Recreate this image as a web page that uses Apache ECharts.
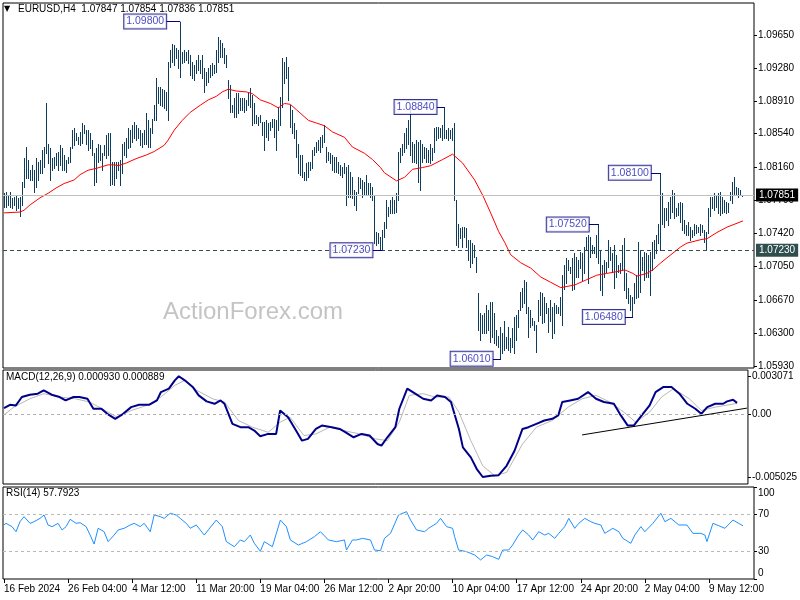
<!DOCTYPE html>
<html><head><meta charset="utf-8">
<script src="https://cdn.jsdelivr.net/npm/echarts@6/dist/echarts.min.js"></script>
<style>html,body{margin:0;padding:0;background:#fff}#c{width:800px;height:600px}</style>
</head><body><div id="c"></div>
<script>
const symbolName = 'EURUSD';
const timeframe = 'H4';
const lastBar = [1.07847, 1.07854, 1.07836, 1.07851];
const dateLabels = ['16 Feb 2024','26 Feb 04:00','4 Mar 12:00','11 Mar 20:00','19 Mar 04:00','26 Mar 12:00','2 Apr 20:00','10 Apr 04:00','17 Apr 12:00','24 Apr 20:00','2 May 04:00','9 May 12:00'];
const barsPerLabel = 32;
const slotCount = 375;
const high = [
1.0787,1.0788,1.0785,1.0788,1.0782,1.0783,1.0785,1.0782,1.0783,1.0800,
1.0827,1.0839,1.0825,1.0813,1.0819,1.0813,1.0827,1.0822,1.0825,1.0836,
1.0839,1.0889,1.0843,1.0838,1.0827,1.0828,1.0832,1.0833,1.0841,1.0838,
1.0830,1.0825,1.0828,1.0839,1.0858,1.0860,1.0855,1.0850,1.0856,1.0866,
1.0864,1.0858,1.0858,1.0855,1.0847,1.0832,1.0838,1.0843,1.0841,1.0832,
1.0841,1.0853,1.0855,1.0855,1.0822,1.0822,1.0822,1.0822,1.0825,1.0843,
1.0845,1.0849,1.0860,1.0858,1.0864,1.0867,1.0864,1.0860,1.0858,1.0855,
1.0858,1.0877,1.0869,1.0860,1.0871,1.0886,1.0917,1.0907,1.0906,1.0904,
1.0903,1.0901,1.0935,1.0948,1.0955,1.0954,1.0950,1.0948,1.0980,1.0946,
1.0948,1.0946,1.0948,1.0943,1.0935,1.0931,1.0937,1.0943,1.0937,1.0943,
1.0928,1.0923,1.0928,1.0931,1.0933,1.0931,1.0948,1.0963,1.0959,1.0956,
1.0950,1.0943,1.0914,1.0909,1.0886,1.0894,1.0900,1.0900,1.0894,1.0894,
1.0894,1.0892,1.0900,1.0905,1.0898,1.0889,1.0875,1.0873,1.0875,1.0867,
1.0867,1.0869,1.0866,1.0867,1.0871,1.0871,1.0869,1.0884,1.0895,1.0939,
1.0935,1.0940,1.0929,1.0886,1.0881,1.0866,1.0858,1.0843,1.0830,1.0830,
1.0811,1.0821,1.0822,1.0822,1.0836,1.0839,1.0845,1.0847,1.0850,1.0853,
1.0864,1.0839,1.0833,1.0832,1.0830,1.0828,1.0828,1.0822,1.0819,1.0817,
1.0821,1.0817,1.0819,1.0811,1.0805,1.0791,1.0788,1.0805,1.0804,1.0802,
1.0800,1.0808,1.0799,1.0799,1.0794,1.0785,1.0743,1.0742,1.0738,1.0746,
1.0755,1.0780,1.0772,1.0780,1.0783,1.0780,1.0787,1.0833,1.0838,1.0843,
1.0855,1.0860,1.0869,1.0884,1.0845,1.0843,1.0847,1.0845,1.0847,1.0843,
1.0839,1.0838,1.0836,1.0843,1.0838,1.0860,1.0861,1.0861,1.0860,1.0864,
1.0884,1.0858,1.0860,1.0858,1.0860,1.0866,1.0780,1.0753,1.0748,1.0749,
1.0749,1.0748,1.0735,1.0735,1.0731,1.0729,1.0715,1.0675,1.0652,1.0650,
1.0652,1.0661,1.0656,1.0665,1.0665,1.0652,1.0633,1.0627,1.0637,1.0630,
1.0644,1.0625,1.0637,1.0624,1.0636,1.0648,1.0650,1.0656,1.0676,1.0681,
1.0690,1.0687,1.0659,1.0656,1.0647,1.0644,1.0639,1.0667,1.0676,1.0675,
1.0670,1.0664,1.0658,1.0667,1.0659,1.0664,1.0661,1.0659,1.0670,1.0695,
1.0706,1.0714,1.0712,1.0704,1.0714,1.0720,1.0715,1.0712,1.0721,1.0720,
1.0727,1.0738,1.0740,1.0738,1.0729,1.0727,1.0740,1.0752,1.0723,1.0706,
1.0712,1.0710,1.0735,1.0727,1.0720,1.0729,1.0718,1.0706,1.0709,1.0729,
1.0737,1.0697,1.0681,1.0673,1.0670,1.0686,1.0695,1.0732,1.0723,1.0715,
1.0721,1.0720,1.0718,1.0721,1.0732,1.0735,1.0740,1.0753,1.0810,1.0787,
1.0770,1.0771,1.0777,1.0783,1.0791,1.0787,1.0771,1.0776,1.0777,1.0776,
1.0757,1.0751,1.0755,1.0749,1.0746,1.0753,1.0751,1.0749,1.0753,1.0751,
1.0746,1.0743,1.0770,1.0783,1.0783,1.0787,1.0785,1.0787,1.0788,1.0783,
1.0780,1.0777,1.0776,1.0788,1.0800,1.0805,1.0794,1.0793,1.0791,1.07854];
const low = [
1.0772,1.0772,1.0774,1.0772,1.0771,1.0774,1.0768,1.0771,1.0761,1.0774,
1.0794,1.0804,1.0804,1.0802,1.0802,1.0789,1.0794,1.0802,1.0810,1.0810,
1.0817,1.0832,1.0821,1.0802,1.0813,1.0815,1.0819,1.0813,1.0819,1.0813,
1.0813,1.0811,1.0821,1.0822,1.0838,1.0841,1.0847,1.0843,1.0841,1.0844,
1.0855,1.0843,1.0836,1.0838,1.0830,1.0796,1.0800,1.0822,1.0825,1.0813,
1.0830,1.0827,1.0830,1.0796,1.0798,1.0796,1.0804,1.0813,1.0796,1.0810,
1.0830,1.0828,1.0838,1.0839,1.0845,1.0849,1.0847,1.0849,1.0841,1.0839,
1.0843,1.0843,1.0839,1.0839,1.0855,1.0869,1.0869,1.0889,1.0886,1.0885,
1.0883,1.0881,1.0869,1.0929,1.0935,1.0931,1.0939,1.0928,1.0918,1.0934,
1.0935,1.0937,1.0934,1.0920,1.0917,1.0914,1.0922,1.0926,1.0922,1.0917,
1.0901,1.0909,1.0912,1.0918,1.0920,1.0922,1.0923,1.0935,1.0940,1.0940,
1.0934,1.0929,1.0894,1.0878,1.0878,1.0873,1.0873,1.0877,1.0881,1.0881,
1.0878,1.0881,1.0886,1.0884,1.0864,1.0866,1.0866,1.0864,1.0867,1.0853,
1.0836,1.0850,1.0847,1.0858,1.0861,1.0850,1.0836,1.0858,1.0864,1.0884,
1.0911,1.0917,1.0892,1.0861,1.0855,1.0849,1.0828,1.0810,1.0808,1.0805,
1.0802,1.0802,1.0805,1.0813,1.0815,1.0830,1.0833,1.0836,1.0833,1.0839,
1.0845,1.0822,1.0825,1.0821,1.0813,1.0811,1.0811,1.0810,1.0808,1.0805,
1.0810,1.0774,1.0783,1.0783,1.0782,1.0774,1.0768,1.0787,1.0793,1.0783,
1.0785,1.0785,1.0785,1.0783,1.0780,1.0731,1.0729,1.0731,1.0723,1.0723,
1.0738,1.0748,1.0761,1.0765,1.0765,1.0765,1.0766,1.0780,1.0822,1.0830,
1.0833,1.0838,1.0843,1.0830,1.0822,1.0822,1.0821,1.0800,1.0791,1.0822,
1.0827,1.0822,1.0822,1.0821,1.0825,1.0833,1.0847,1.0849,1.0850,1.0847,
1.0849,1.0849,1.0847,1.0849,1.0847,1.0780,1.0729,1.0727,1.0737,1.0727,
1.0738,1.0727,1.0712,1.0704,1.0709,1.0715,1.0699,1.0633,1.0622,1.0630,
1.0630,1.0630,1.0633,1.0620,1.0625,1.0619,1.0616,1.0614,1.0601,1.0608,
1.0611,1.0613,1.0611,1.0609,1.0614,1.0608,1.0622,1.0637,1.0656,1.0659,
1.0664,1.0653,1.0625,1.0637,1.0639,1.0633,1.0609,1.0644,1.0650,1.0641,
1.0642,1.0652,1.0631,1.0644,1.0624,1.0630,1.0652,1.0652,1.0650,1.0639,
1.0680,1.0686,1.0701,1.0697,1.0678,1.0680,1.0693,1.0693,1.0703,1.0690,
1.0697,1.0723,1.0686,1.0715,1.0720,1.0720,1.0715,1.0709,1.0678,1.0673,
1.0693,1.0699,1.0704,1.0712,1.0699,1.0681,1.0693,1.0699,1.0697,1.0701,
1.0678,1.0669,1.0664,1.0656,1.0648,1.0664,1.0669,1.0670,1.0676,1.0701,
1.0690,1.0693,1.0693,1.0673,1.0701,1.0714,1.0720,1.0731,1.0723,1.0753,
1.0749,1.0757,1.0751,1.0759,1.0766,1.0759,1.0761,1.0763,1.0755,1.0746,
1.0742,1.0740,1.0740,1.0735,1.0738,1.0740,1.0742,1.0743,1.0740,1.0743,
1.0732,1.0723,1.0742,1.0761,1.0771,1.0768,1.0772,1.0765,1.0763,1.0765,
1.0766,1.0765,1.0766,1.0780,1.0776,1.0785,1.0785,1.0783,1.0785,1.07836];
const maBars = [0,8,10,13,18,22,26,30,35,38,42,46,52,55,57,61,66,71,75,80,82,85,89,93,98,102,106,109,112,116,121,124,128,133,137,140,143,146,152,156,160,164,170,174,180,184,188,190,196,200,204,209,213,219,224,229,235,239,243,247,250,253,258,263,268,273,278,285,291,296,301,306,310,314,316,321,324,328,333,338,341,348,351,356,361,369];
const maValues = [1.0765,1.0766,1.0768,1.0774,1.0782,1.0787,1.0793,1.0798,1.0802,1.0808,1.0813,1.0815,1.0819,1.0819,1.0818,1.0821,1.0826,1.0830,1.0834,1.0841,1.0847,1.0858,1.0869,1.0878,1.0886,1.0892,1.0896,1.0901,1.0904,1.0902,1.0901,1.0899,1.0892,1.0888,1.0883,1.0888,1.0887,1.0881,1.0869,1.0866,1.0863,1.0856,1.0850,1.0839,1.0832,1.0825,1.0816,1.0810,1.0801,1.0805,1.0814,1.0816,1.0818,1.0825,1.0831,1.0821,1.0802,1.0785,1.0765,1.0744,1.0732,1.0718,1.0709,1.0703,1.0693,1.0687,1.0681,1.0684,1.0690,1.0695,1.0697,1.0699,1.0701,1.0697,1.0694,1.0697,1.0701,1.0709,1.0718,1.0727,1.0731,1.0735,1.0736,1.0743,1.0749,1.0756];
const macdBars = [0,3,6,9,13,17,20,24,28,31,35,38,42,45,49,52,56,60,64,68,73,77,79,83,86,88,91,95,98,102,106,109,111,115,119,123,126,129,133,137,139,143,147,150,153,157,160,165,169,172,176,180,184,188,190,193,197,199,203,207,211,215,218,222,225,229,231,235,238,241,245,249,253,257,261,264,268,272,276,279,281,285,289,294,298,302,307,310,314,317,321,325,328,332,336,340,344,348,351,354,358,362,364,367,369];
const macdValues = [0.00051,0.00078,0.00073,0.00140,0.00159,0.00167,0.00194,0.00159,0.00140,0.00113,0.00140,0.00140,0.00126,0.00046,0.00046,0.00005,-0.00035,0.00005,0.00059,0.00078,0.00078,0.00113,0.00180,0.00207,0.00274,0.00307,0.00274,0.00221,0.00153,0.00105,0.00086,0.00113,0.00086,-0.00075,-0.00102,-0.00102,-0.00129,-0.00175,-0.00156,-0.00156,0.00032,-0.00022,-0.00129,-0.00210,-0.00196,-0.00116,-0.00089,-0.00102,-0.00116,-0.00143,-0.00183,-0.00156,-0.00169,-0.00237,-0.00250,-0.00183,-0.00102,0.00046,0.00207,0.00167,0.00126,0.00113,0.00153,0.00140,0.00100,-0.00116,-0.00264,-0.00344,-0.00438,-0.00502,-0.00492,-0.00487,-0.00412,-0.00291,-0.00116,-0.00102,-0.00075,-0.00048,-0.00035,-0.00008,0.00100,0.00113,0.00126,0.00180,0.00126,0.00100,0.00086,0.00005,-0.00089,-0.00089,-0.00008,0.00073,0.00180,0.00221,0.00221,0.00167,0.00086,0.00046,0.00005,0.00059,0.00086,0.00086,0.00105,0.00118,0.00093];
const signalBars = [0,5,13,20,28,36,43,51,57,64,72,79,86,91,97,105,111,118,125,133,139,144,151,157,164,171,179,187,193,199,204,211,217,224,229,235,241,247,253,261,268,276,284,291,298,305,312,318,325,331,337,345,351,358,369];
const signalValues = [-0.00003,0.00059,0.00126,0.00167,0.00140,0.00126,0.00100,0.00032,-0.00022,0.00032,0.00073,0.00140,0.00234,0.00274,0.00194,0.00126,0.00100,-0.00048,-0.00102,-0.00143,-0.00062,-0.00022,-0.00169,-0.00156,-0.00102,-0.00129,-0.00156,-0.00196,-0.00210,-0.00062,0.00153,0.00167,0.00140,0.00140,0.00019,-0.00210,-0.00412,-0.00492,-0.00465,-0.00237,-0.00102,-0.00048,0.00059,0.00126,0.00153,0.00100,0.00019,-0.00062,0.00019,0.00140,0.00207,0.00126,0.00032,0.00059,0.00089];
const macdLast = [0.000930, 0.000889];
const trendBars = [291, 374];
const trendValues = [-0.00164, 0.00051];
const rsiBars = [0,1,4,6,8,10,13,15,18,20,22,24,27,29,31,33,36,38,41,43,45,47,50,52,55,57,60,63,65,68,70,73,75,78,80,83,86,88,91,93,96,100,102,106,109,111,115,118,120,123,125,128,130,134,138,141,143,147,151,155,158,162,166,170,171,174,176,179,183,185,188,190,193,197,201,203,206,210,212,216,218,221,224,225,227,231,235,238,241,244,247,249,252,254,257,259,262,264,267,270,272,275,277,280,282,285,287,290,293,295,298,300,304,307,309,313,315,318,320,324,328,330,333,337,341,344,348,350,351,354,358,360,364,369];
const rsiValues = [58.7,60.5,56.9,51.4,62.3,67.8,60.5,62.3,65.9,69.6,58.7,56.9,60.5,53.3,56.9,64.9,60.5,61.2,56.9,47.8,38.0,55.1,51.4,40.6,47.8,53.3,55.1,58.7,60.5,56.9,60.5,51.4,69.6,67.8,65.9,71.4,69.6,65.9,60.5,55.1,58.7,47.8,53.3,64.1,56.9,40.6,35.1,42.4,40.6,47.8,38.8,30.1,40.6,35.1,64.1,56.9,42.4,36.9,40.6,46.0,51.4,42.4,40.6,42.4,31.5,42.4,42.4,44.2,42.4,31.5,30.8,44.2,49.6,69.6,73.2,64.1,53.3,51.4,55.1,60.5,65.9,56.9,55.1,46.0,31.5,29.7,26.1,20.7,26.1,24.3,21.4,31.5,31.5,37.0,47.8,53.3,47.8,42.4,51.4,47.8,49.6,44.2,49.6,56.9,65.9,55.1,60.5,65.9,62.3,60.5,58.7,49.6,55.1,51.4,44.2,38.8,47.8,56.9,51.4,60.5,71.4,62.3,65.9,58.7,58.7,49.6,49.6,47.8,40.6,60.5,56.9,55.1,64.1,57.79];
const rsiLast = 57.7923;
const rsiLevels = [30, 70];
const priceTicks = [1.0593,1.0630,1.0667,1.0705,1.0742,1.0779,1.0816,1.0854,1.0891,1.0928,1.0965];
const macdTicks = [-0.005025, 0, 0.003071];
const rsiTicks = [0, 30, 70, 100];
const currentPrice = 1.07851;
const supportLevel = 1.0723;
const annotPrices = [1.0980, 1.0884, 1.0723, 1.0601, 1.0752, 1.0648, 1.0810];
const annotBars = [88, 220, 189, 248, 297, 314, 328];
const annotBoxEnd = [81, 216, 184, 244, 292, 310, 323];

const FONT = '"Liberation Sans", Arial, sans-serif';
const categories = Array.from({length: slotCount}, (_, i) => (i % barsPerLabel === 0 && i / barsPerLabel < dateLabels.length) ? dateLabels[i / barsPerLabel] : '');
const showDate = (i) => categories[i] !== '';
const pairs = (xs, ys) => xs.map((x, i) => [x, ys[i]]);

const chart = echarts.init(document.getElementById('c'), null, {renderer: 'canvas'});
const gridBase = {left: 3, right: 46, show: true, borderColor: '#000', borderWidth: 1, backgroundColor: '#fff'};
const xBase = (g) => ({type: 'category', gridIndex: g, data: categories, boundaryGap: true,
  axisLine: {show: false}, axisTick: {show: false}, axisLabel: {show: false}, splitLine: {show: false}});
const yBase = (g, min, max, ticks, fmt, rich) => ({type: 'value', gridIndex: g, position: 'right', min, max,
  splitLine: {show: false}, axisLine: {show: false},
  axisTick: {show: true, length: 3, customValues: ticks, lineStyle: {color: '#000'}},
  axisLabel: {customValues: ticks, formatter: fmt, fontSize: 10, color: '#000', fontFamily: FONT, margin: 4, rich: rich}});

const option = {
  animation: false,
  backgroundColor: '#fff',
  title: [
    {text: '▼', left: 4, top: 5, padding: 0, textStyle: {fontSize: 8, color: '#000', fontWeight: 'normal', fontFamily: 'DejaVu Sans'}},
    {text: symbolName + ',' + timeframe + '  ' + lastBar.map(v => v.toFixed(5)).join(' '), left: 18, top: 4, padding: 0,
     textStyle: {fontSize: 10, color: '#000', fontWeight: 'normal', fontFamily: FONT}},
    {text: 'MACD(12,26,9) ' + macdLast.map(v => v.toFixed(6)).join(' '), left: 6, top: 372, padding: 0,
     textStyle: {fontSize: 10, color: '#000', fontWeight: 'normal', fontFamily: FONT}},
    {text: 'RSI(14) ' + rsiLast.toFixed(4), left: 6, top: 488, padding: 0,
     textStyle: {fontSize: 10, color: '#000', fontWeight: 'normal', fontFamily: FONT}},
    {text: 'ActionForex.com', left: 163, top: 300, padding: 0, z: 0,
     textStyle: {fontSize: 24, color: '#c4c4c4', fontWeight: 'normal', fontFamily: FONT}}
  ],
  grid: [
    Object.assign({top: 3, height: 365}, gridBase),
    Object.assign({top: 370, height: 114}, gridBase),
    Object.assign({top: 487, height: 92}, gridBase)
  ],
  xAxis: [xBase(0), xBase(1), Object.assign(xBase(2), {
    axisTick: {show: true, interval: (i) => showDate(i), alignWithLabel: true, length: 4, lineStyle: {color: '#000'}},
    axisLabel: {show: true, interval: (i) => showDate(i), align: 'left', fontSize: 10, color: '#000', fontFamily: FONT, margin: 5}
  })],
  yAxis: [
    yBase(0, 1.05907, 1.10009, priceTicks, v => v.toFixed(5)),
    yBase(1, -0.00558, 0.00357, macdTicks, v => v === 0 ? '0.00' : v.toFixed(6)),
    yBase(2, 0, 100, rsiTicks, v => v === 100 ? '{t|100}' : (v === 0 ? '{b|0}' : String(v)),
      {t: {padding: [12, 0, 0, 0], fontSize: 10, fontFamily: FONT, color: '#000'}, b: {padding: [0, 0, 12, 0], fontSize: 10, fontFamily: FONT, color: '#000'}})
  ],
  series: [
    {
      type: 'custom', xAxisIndex: 0, yAxisIndex: 0, silent: true, z: 3,
      data: high.map((h, i) => [i, low[i], h]),
      encode: {x: 0, y: [1, 2]},
      renderItem: (params, api) => {
        const t = api.coord([api.value(0), api.value(2)]);
        const b = api.coord([api.value(0), api.value(1)]);
        const x = Math.round(t[0] - 0.5);
        const y0 = Math.round(t[1]);
        const y1 = Math.round(b[1]);
        return {type: 'rect', shape: {x: x, y: y0, width: 1, height: Math.max(1, y1 - y0 + 1)}, style: {fill: '#0f3d5e'}};
      }
    },
    {
      type: 'line', xAxisIndex: 0, yAxisIndex: 0, data: pairs(maBars, maValues), showSymbol: false, silent: true, z: 4,
      lineStyle: {color: '#ff0000', width: 1},
      markLine: {
        silent: true, symbol: ['none', 'none'], animation: false, precision: 6,
        data: [
          {yAxis: currentPrice, lineStyle: {color: '#c0c0c0', type: 'solid', width: 1},
           label: {show: true, position: 'end', distance: 2, formatter: currentPrice.toFixed(5), backgroundColor: '#000', color: '#fff',
                   padding: [2, 3, 1, 3], fontSize: 10, fontFamily: FONT}},
          {yAxis: supportLevel, lineStyle: {color: '#2f4f4f', type: [4, 3], width: 1},
           label: {show: true, position: 'end', distance: 2, formatter: supportLevel.toFixed(5), backgroundColor: '#2f4f4f', color: '#fff',
                   padding: [2, 3, 1, 3], fontSize: 10, fontFamily: FONT}}
        ]
      }
    },
    {
      type: 'scatter', xAxisIndex: 0, yAxisIndex: 0, silent: true, z: 6,
      symbolSize: 0.1, itemStyle: {color: 'rgba(0,0,0,0)'},
      data: pairs(annotBoxEnd, annotPrices),
      label: {show: true, position: 'left', distance: 0, formatter: p => p.value[1].toFixed(5),
              backgroundColor: '#fff', borderColor: '#000080', borderWidth: 1, padding: [2, 2, 1, 2],
              color: '#1818b0', fontSize: 10.5, fontFamily: FONT},
      markLine: {
        silent: true, symbol: ['none', 'none'], label: {show: false}, precision: 6,
        lineStyle: {color: '#000080', width: 1, type: 'solid'},
        data: annotPrices.map((p, i) => [{coord: [annotBoxEnd[i], p]}, {coord: [annotBars[i], p]}])
      }
    },
    {
      type: 'line', xAxisIndex: 1, yAxisIndex: 1, data: pairs(signalBars, signalValues), showSymbol: false, silent: true, z: 3,
      lineStyle: {color: '#b8b8b8', width: 1},
      markLine: {silent: true, symbol: ['none', 'none'], label: {show: false}, precision: 6,
        lineStyle: {color: '#b0b0b0', type: [3, 3], width: 1}, data: [{yAxis: 0}]}
    },
    {
      type: 'line', xAxisIndex: 1, yAxisIndex: 1, data: pairs(macdBars, macdValues), showSymbol: false, silent: true, z: 4,
      lineStyle: {color: '#00008b', width: 2}
    },
    {
      type: 'line', xAxisIndex: 1, yAxisIndex: 1, data: pairs(trendBars, trendValues), showSymbol: false, silent: true, z: 5,
      lineStyle: {color: '#000', width: 1}
    },
    {
      type: 'line', xAxisIndex: 2, yAxisIndex: 2, data: pairs(rsiBars, rsiValues), showSymbol: false, silent: true, z: 4,
      lineStyle: {color: '#1e90ff', width: 1},
      markLine: {silent: true, symbol: ['none', 'none'], label: {show: false}, precision: 4,
        lineStyle: {color: '#b8b8b8', type: [3, 3], width: 1}, data: rsiLevels.map(v => ({yAxis: v}))}
    }
  ]
};
chart.setOption(option);
</script>
</body></html>
